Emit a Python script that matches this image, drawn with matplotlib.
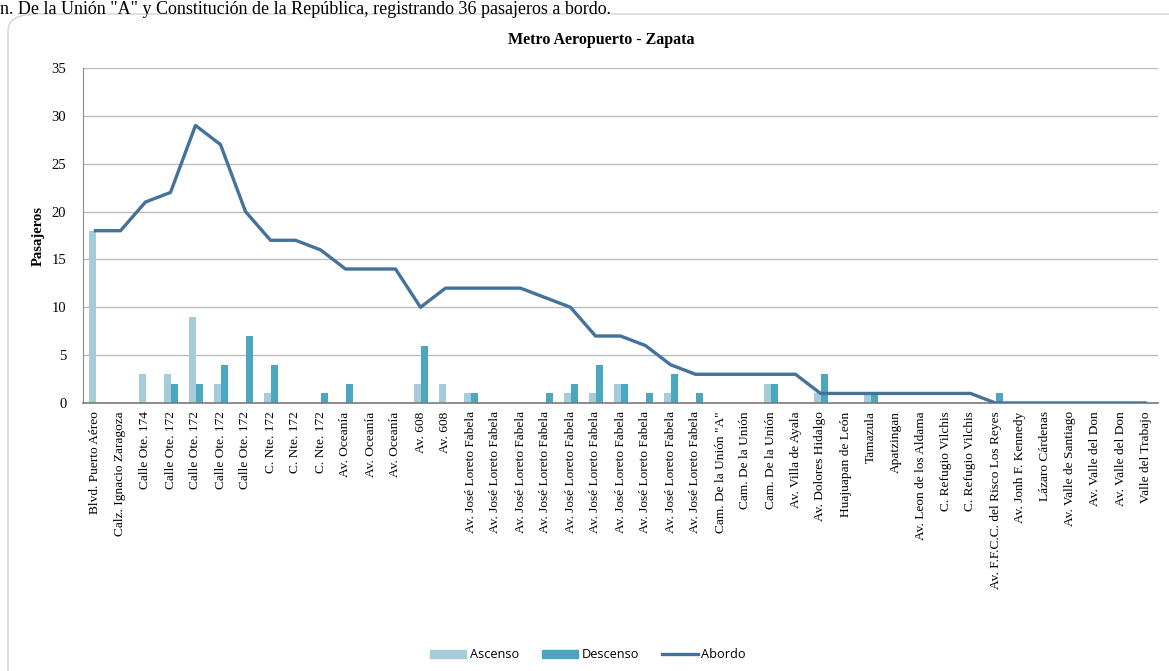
import matplotlib.pyplot as plt
from matplotlib.patches import FancyBboxPatch, Patch
from matplotlib.lines import Line2D
import numpy as np

paradas = ['Blvd. Puerto Aéreo', 'Calz. Ignacio Zaragoza', 'Calle Ote. 174',
           'Calle Ote. 172', 'Calle Ote. 172', 'Calle Ote. 172', 'Calle Ote. 172',
           'C. Nte. 172', 'C. Nte. 172', 'C. Nte. 172',
           'Av. Oceanía', 'Av. Oceanía', 'Av. Oceanía', 'Av. 608', 'Av. 608'] + \
          ['Av. José Loreto Fabela'] * 10 + \
          ['Cam. De la Unión "A"', 'Cam. De la Unión', 'Cam. De la Unión',
           'Av. Villa de Ayala', 'Av. Dolores Hidalgo', 'Huajuapan de León',
           'Tamazula', 'Apatzingan', 'Av. Leon de los Aldama',
           'C. Refugio Vilchis', 'C. Refugio Vilchis',
           'Av. F.F.C.C. del Risco Los Reyes', 'Av. Jonh F. Kennedy',
           'Lázaro Cárdenas', 'Av. Valle de Santiago', 'Av. Valle del Don',
           'Av. Valle del Don', 'Valle del Trabajo']

ascenso = [18, 0, 3, 3, 9, 2, 0, 1, 0, 0, 0, 0, 0, 2, 2,
           1, 0, 0, 0, 1, 1, 2, 0, 1, 0,
           0, 0, 2, 0, 1, 0, 1, 0, 0, 0, 0, 0, 0, 0, 0, 0, 0, 0]
descenso = [0, 0, 0, 2, 2, 4, 7, 4, 0, 1, 2, 0, 0, 6, 0,
            1, 0, 0, 1, 2, 4, 2, 1, 3, 1,
            0, 0, 2, 0, 3, 0, 1, 0, 0, 0, 0, 1, 0, 0, 0, 0, 0, 0]
abordo = [18, 18, 21, 22, 29, 27, 20, 17, 17, 16, 14, 14, 14, 10, 12,
          12, 12, 12, 11, 10, 7, 7, 6, 4, 3,
          3, 3, 3, 3, 1, 1, 1, 1, 1, 1, 1, 0, 0, 0, 0, 0, 0, 0]

c_asc = '#a6ccd9'
c_desc = '#4aa7bf'
c_line = '#44729b'
serif = 'Liberation Serif'

fig = plt.figure(figsize=(11.69, 6.71), dpi=100)

# recuadro del grafico y texto del documento arriba
fig.patches.append(FancyBboxPatch((8 / 1169, -0.2), 1.2, 1.2 - 14 / 671,
                                  boxstyle='round,pad=0,rounding_size=0.025',
                                  transform=fig.transFigure, facecolor='none',
                                  edgecolor='#d4d4d4', linewidth=1.0, zorder=-1))
fig.text(0.0, 1.0 - 1 / 671, 'n. De la Unión "A" y Constitución de la República, registrando 36 pasajeros a bordo.',
         family=serif, fontsize=13, va='top', ha='left')

ax = fig.add_axes([83 / 1169, 1 - 403 / 671, 1075 / 1169, 335 / 671])
ax.set_facecolor('none')
x = np.arange(len(paradas))
w = 0.28
ax.bar(x - w, ascenso, width=w, align='edge', color=c_asc, zorder=2)
ax.bar(x, descenso, width=w, align='edge', color=c_desc, zorder=2)
ax.plot(x, abordo, color=c_line, linewidth=2.4, zorder=3, solid_joinstyle='round')

ax.set_xlim(-0.5, len(paradas) - 0.5)
ax.set_ylim(0, 35)
ax.set_yticks(np.arange(0, 36, 5))
ax.yaxis.grid(True, color='#b9b9b9', linewidth=0.9)
ax.set_axisbelow(True)
for s in ['top', 'right']:
    ax.spines[s].set_visible(False)
ax.spines['left'].set_color('#8c8c8c')
ax.spines['bottom'].set_color('#7a7a7a')
ax.spines['bottom'].set_linewidth(1.2)
ax.set_xticks(x)
ax.set_xticklabels(paradas, rotation=90, family=serif, fontsize=9.6)
ax.tick_params(axis='x', length=0, pad=6)
ax.tick_params(axis='y', length=0, pad=12, labelsize=10.5)
for t in ax.get_yticklabels():
    t.set_family(serif)
ax.set_ylabel('Pasajeros', family=serif, fontsize=10.5, fontweight='bold', labelpad=5)

fig.text(0.514, 1 - 40 / 671, 'Metro Aeropuerto - Zapata', family=serif, fontsize=11.5,
         fontweight='bold', ha='center', va='center')

handles = [Patch(color=c_asc), Patch(color=c_desc), Line2D([], [], color=c_line, linewidth=2.4)]
fig.legend(handles, ['Ascenso', 'Descenso', 'Abordo'], loc='center', ncol=3,
           bbox_to_anchor=(0.503, 1 - 655 / 671), frameon=False,
           prop={'family': 'Open Sans', 'size': 9.2}, handlelength=2.8, handleheight=0.5,
           columnspacing=1.8, handletextpad=0.3)

fig.savefig('out.png', dpi=100)
